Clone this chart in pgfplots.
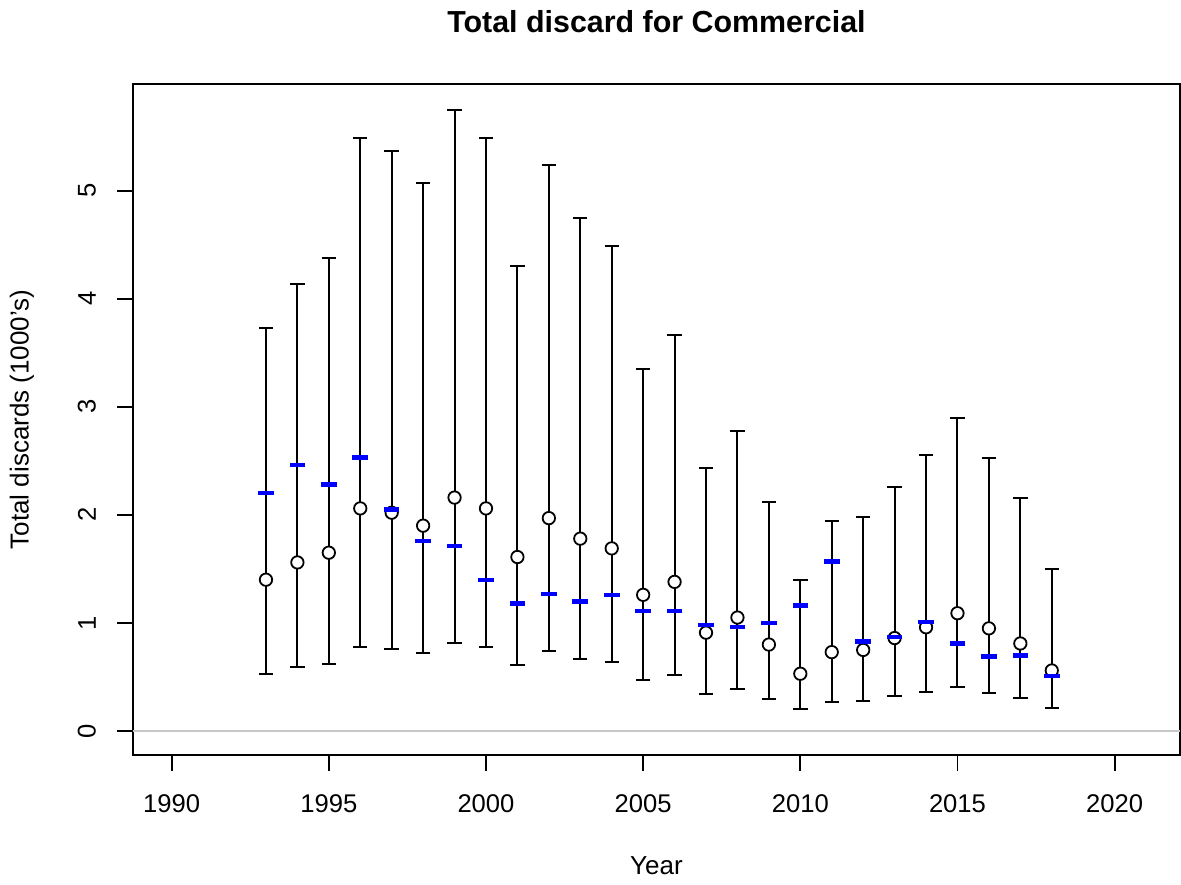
\documentclass[border=0pt]{standalone}
\usepackage{pgfplots}
\pgfplotsset{compat=1.18}
\usepackage{pgfplotstable}
\usepackage{fontspec}
\setmainfont{Liberation Sans}
\definecolor{rgray}{RGB}{200,200,200}

% year, estimate (circle), lower, upper, blue dash
\pgfplotstableread{
year est lo hi blue
1993 1.40 0.53 3.73 2.20
1994 1.56 0.59 4.14 2.46
1995 1.65 0.62 4.38 2.28
1996 2.06 0.78 5.49 2.53
1997 2.02 0.76 5.37 2.05
1998 1.90 0.72 5.07 1.76
1999 2.16 0.81 5.75 1.71
2000 2.06 0.78 5.49 1.40
2001 1.61 0.61 4.30 1.18
2002 1.97 0.74 5.24 1.27
2003 1.78 0.67 4.75 1.20
2004 1.69 0.64 4.49 1.26
2005 1.26 0.47 3.35 1.11
2006 1.38 0.52 3.66 1.11
2007 0.91 0.34 2.43 0.98
2008 1.05 0.39 2.78 0.96
2009 0.80 0.30 2.12 1.00
2010 0.53 0.20 1.40 1.16
2011 0.73 0.27 1.94 1.57
2012 0.75 0.28 1.98 0.83
2013 0.86 0.32 2.26 0.87
2014 0.96 0.36 2.55 1.01
2015 1.09 0.41 2.90 0.81
2016 0.95 0.35 2.53 0.69
2017 0.81 0.31 2.16 0.70
2018 0.56 0.21 1.50 0.51
}\discards

\begin{document}
\begin{tikzpicture}
\useasboundingbox (-66.5pt,-64.5pt) rectangle (524pt,377.5pt);
\begin{axis}[
    scale only axis,
    width=523.5pt, height=335.5pt,
    xmin=1988.77, xmax=2022.08,
    ymin=-0.222, ymax=5.987,
    xtick={1990,1995,...,2020},
    ytick={0,1,2,3,4,5},
    xtick pos=bottom, ytick pos=left,
    tick align=outside,
    major tick length=8pt,
    tick style={black, line width=0.9pt},
    axis line style={line width=1pt},
    /pgf/number format/assume math mode=true,
    /pgf/number format/1000 sep={},
    tick label style={font=\fontsize{12.8}{15}\selectfont},
    yticklabel style={rotate=90, anchor=south},
    xticklabel style={anchor=north},
    xticklabel shift=8.5pt,
    yticklabel shift=7pt,
    label style={font=\fontsize{13}{15.6}\selectfont},
    xlabel={Year},
    ylabel={Total discards (1000's)},
    xlabel style={at={(axis description cs:0.5,-0.1654)}, anchor=center},
    ylabel style={at={(axis description cs:-0.106,0.5)}, anchor=center},
    title={Total discard for Commercial},
    title style={at={(axis description cs:0.5,1.075)}, anchor=center,
        font=\bfseries\fontsize{15.2}{18}\selectfont},
]
\addplot[rgray, line width=1pt, forget plot] coordinates {(1988.77,0) (2022.08,0)};
\addplot[only marks, mark=none,
    error bars/.cd, y dir=both, y explicit,
    error mark=|,
    error mark options={black, mark size=3.6pt, line width=1pt},
    error bar style={black, line width=1pt}]
  table[x=year, y=est,
    y error plus expr=\thisrow{hi}-\thisrow{est},
    y error minus expr=\thisrow{est}-\thisrow{lo}] {\discards};
\addplot[only marks, mark=*, mark size=3.1pt,
    mark options={fill=white, draw=black, line width=0.9pt}]
  table[x=year, y=est] {\discards};
\addplot[only marks, mark=-, mark size=3.9pt,
    mark options={draw=blue, line width=2.2pt}]
  table[x=year, y=blue] {\discards};
\end{axis}
\end{tikzpicture}
\end{document}
